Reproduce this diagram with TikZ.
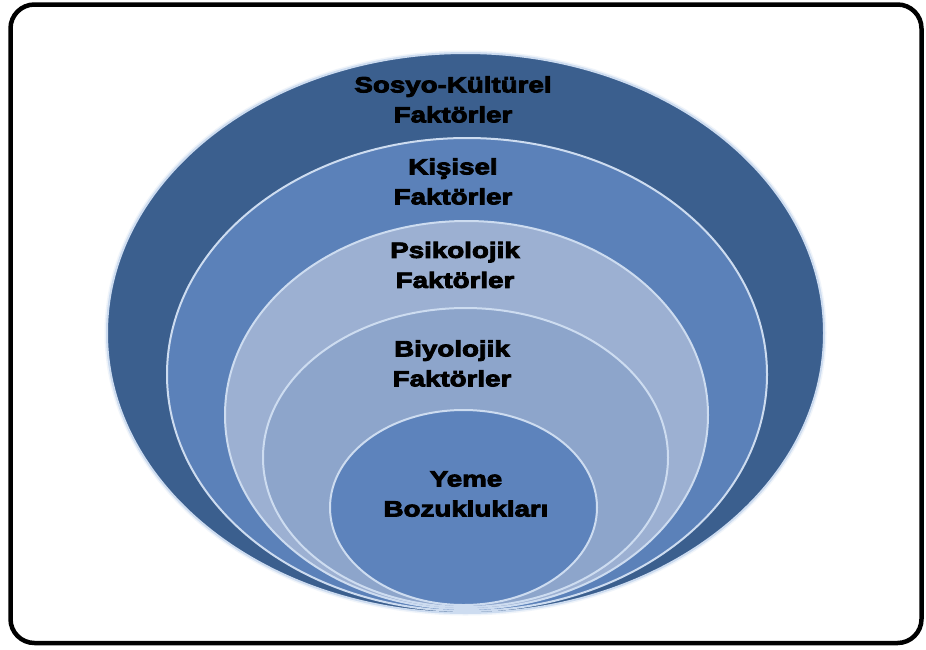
\documentclass[tikz,border=0pt]{standalone}
\usepackage{fontspec}
\newfontfamily\lblfont{Liberation Sans Bold}[FakeStretch=1.26,FakeBold=4]
\definecolor{ringA}{RGB}{59,95,142}
\definecolor{ringB}{RGB}{91,129,185}
\definecolor{ringC}{RGB}{156,176,210}
\definecolor{ringD}{RGB}{141,165,203}
\definecolor{ringE}{RGB}{93,131,188}
\definecolor{rimcol}{RGB}{205,220,240}
\tikzset{
  ring/.style={draw=rimcol,line width=2pt},
  lbl/.style={font=\lblfont\fontsize{22}{30}\selectfont,align=center,inner sep=0pt,text=black},
  frame/.style={draw=black,line width=4.5pt,rounded corners=24pt}
}
\begin{document}
\begin{tikzpicture}[x=1pt,y=-1pt]
\useasboundingbox (0,0) rectangle (926,649);
\fill[white] (0,0) rectangle (926,649);
\draw[frame] (10.5,4.5) rectangle (921.5,643);
% glow
\draw[draw=rimcol!60,line width=5pt,opacity=0.5] (465.5,333) ellipse [x radius=358.5pt,y radius=280pt];
\path[ring,fill=ringA] (465.5,333) ellipse [x radius=358.5pt,y radius=280pt];
\path[ring,fill=ringB] (467,374.5) ellipse [x radius=300pt,y radius=236.5pt];
\path[ring,fill=ringC] (466.5,415) ellipse [x radius=241.5pt,y radius=194pt];
\path[ring,fill=ringD] (465.5,457.5) ellipse [x radius=202.5pt,y radius=149.5pt];
\path[ring,fill=ringE] (463.5,507.5) ellipse [x radius=133.5pt,y radius=97.5pt];
\node[lbl] (sosyo) at (453,99.5) {Sosyo-Kültürel\\Faktörler};
\node[lbl] (kisisel) at (453,181.5) {Kişisel\\Faktörler};
\node[lbl] (psiko) at (455,265) {Psikolojik\\Faktörler};
\node[lbl] (biyo) at (452,363.5) {Biyolojik\\Faktörler};
\node[lbl] (yeme) at (466,494) {Yeme\\Bozuklukları};
\end{tikzpicture}
\end{document}
